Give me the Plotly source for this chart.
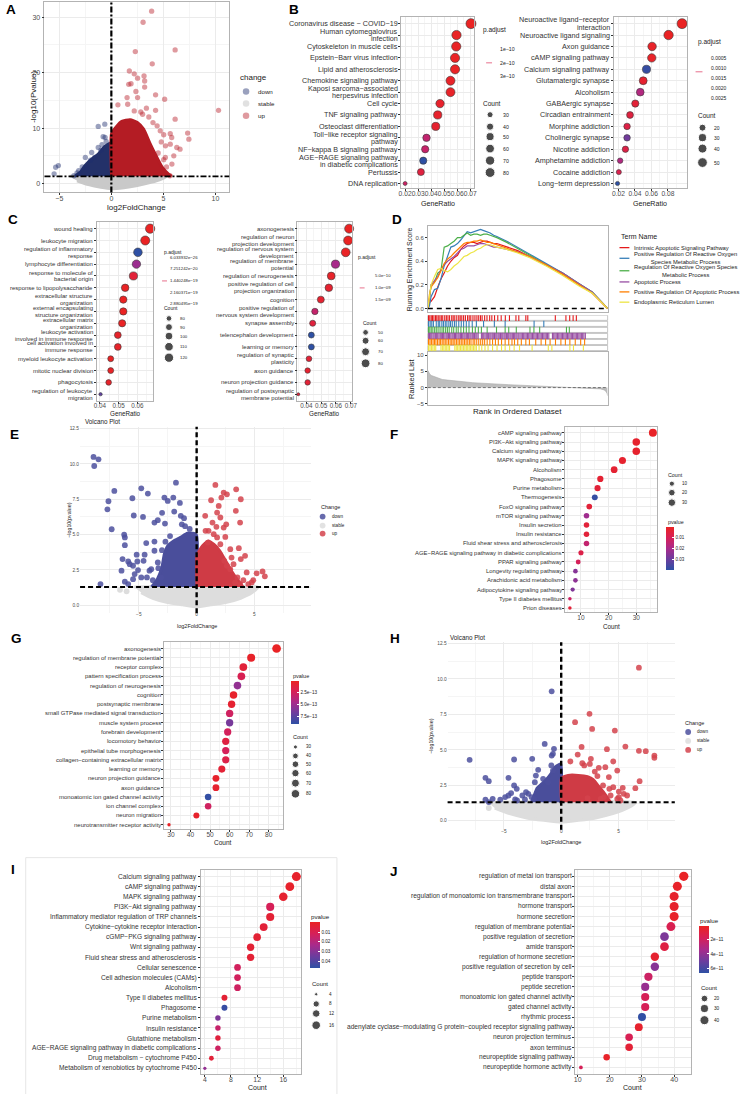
import math
import plotly.graph_objects as go

W, H = 748, 1096
FONT = "Liberation Sans, Arial, Helvetica, sans-serif"
TXT = "#1A1A1A"
TICK = "#4D4D4D"
LAB = "#333333"
GRID = "#EBEBEB"
GRID2 = "#F5F5F5"
BORDER = "#B3B3B3"
CS_RB = [[0.0, "#EA2323"], [0.25, "#D62058"], [0.5, "#A92A8B"], [0.75, "#6B3D9E"], [1.0, "#2E50A4"]]
CS_BR = [[round(1 - p, 4), c] for p, c in reversed(CS_RB)]

# ================= DATA =================
# --- A: volcano (outlier points + dense regions) ---
a_dn_x = [-5.09, -5.35, -5.5, -1.26, -0.63, -0.79, -1.26, -1.89, -2.5, -2.36, -3.14, -3.6, -1.6, -2.0, -0.9, -0.6, -0.5, -1.0, -2.8, -3.3]
a_dn_y = [3.24, 2.93, 1.74, 10.3, 10.7, 8.45, 6.5, 5.6, 4.7, 2.9, 2.3, 1.4, 4.7, 4.2, 7.0, 8.3, 7.6, 6.0, 3.0, 1.9]
a_up_x = [3.87, 3.05, 6.13, 2.3, 3.93, 1.73, 2.2, 2.52, 3.14, 3.2, 1.89, 1.67, 3.2, 2.36, 1.51, 2.52, 4.25, 5.12, 0.63, 1.57,
          3.37, 10.3, 2.2, 2.83, 4.25, 6.13, 4.4, 5.03, 5.66, 7.33, 7.45, 5.66, 6.29, 6.6, 5.19, 5.03, 5.82, 5.63, 4.8, 5.2,
          4.5, 5.8, 3.6, 4.0, 6.0, 4.7, 5.3, 3.0]
a_up_y = [31.1, 29.1, 24.1, 23.8, 21.6, 20.3, 19.8, 19.0, 19.4, 18.5, 18.0, 17.9, 17.4, 16.6, 15.5, 15.5, 16.0, 15.2, 14.2, 14.3,
          13.6, 13.2, 13.1, 12.9, 13.2, 11.6, 10.4, 8.8, 9.0, 9.1, 8.0, 7.1, 6.5, 6.2, 4.7, 4.3, 3.5, 1.4, 7.5, 6.8,
          5.5, 8.3, 12.0, 11.0, 5.0, 9.5, 3.0, 12.5]
a_upc_x = [0.02, 0.02, 0.5, 1.0, 1.8, 2.5, 3.1, 3.7, 4.3, 4.9, 5.5, 5.8]
a_upc_y = [1.3, 9.0, 10.3, 11.2, 11.5, 11.0, 9.8, 7.3, 5.0, 2.9, 1.7, 1.3]
a_dnc_x = [-0.02, -0.02, -0.63, -1.26, -1.9, -2.5, -3.0, -3.5]
a_dnc_y = [1.3, 7.3, 6.7, 5.3, 4.4, 3.3, 2.0, 1.3]
a_st_x = [-4.0, 5.3, 4.8, 3.8, 2.5, 1.2, 0.0, -1.0, -2.2, -3.3]
a_st_y = [1.3, 1.3, 0.8, 0.2, -0.35, -0.75, -0.95, -0.7, -0.2, 0.5]

# --- B left ---
b1_terms = ["Coronavirus disease − COVID−19", "Human cytomegalovirus<br>infection", "Cytoskeleton in muscle cells",
            "Epstein−Barr virus infection", "Lipid and atherosclerosis", "Chemokine signaling pathway",
            "Kaposi sarcoma−associated<br>herpesvirus infection", "Cell cycle", "TNF signaling pathway",
            "Osteoclast differentiation", "Toll−like receptor signaling<br>pathway", "NF−kappa B signaling pathway",
            "AGE−RAGE signaling pathway<br>in diabetic complications", "Pertussis", "DNA replication"]
b1_ratio = [0.0705, 0.0594, 0.0592, 0.0583, 0.0583, 0.0548, 0.0548, 0.0468, 0.0450, 0.0435, 0.0364, 0.0354, 0.0339, 0.0321, 0.0200]
b1_count = [83, 70, 69, 68, 68, 64, 64, 55, 53, 51, 43, 41, 40, 38, 23]
b1_padj = [0.05e-10, 0.08e-10, 0.08e-10, 0.1e-10, 0.1e-10, 0.15e-10, 0.15e-10, 0.2e-10, 0.2e-10, 0.25e-10, 1.3e-10, 1.2e-10, 3.5e-10, 0.5e-10, 1.1e-10]

# --- B right ---
b2_terms = ["Neuroactive ligand−receptor<br>interaction", "Neuroactive ligand signaling", "Axon guidance",
            "cAMP signaling pathway", "Calcium signaling pathway", "Glutamatergic synapse", "Alcoholism",
            "GABAergic synapse", "Circadian entrainment", "Morphine addiction", "Cholinergic synapse",
            "Nicotine addiction", "Amphetamine addiction", "Cocaine addiction", "Long−term depression"]
b2_ratio = [0.0972, 0.0808, 0.0608, 0.0604, 0.0540, 0.0500, 0.0464, 0.0404, 0.0340, 0.0304, 0.0304, 0.0284, 0.0220, 0.0204, 0.0188]
b2_count = [54, 45, 34, 33, 30, 28, 26, 22, 19, 17, 17, 16, 12, 11, 10]
b2_padj = [0.00002, 0.00003, 0.0001, 0.0001, 0.0028, 0.0002, 0.0013, 0.0003, 0.0004, 0.0005, 0.0021, 0.0005, 0.0013, 0.0006, 0.0029]

# --- C left ---
c1_terms = ["wound healing", "leukocyte migration", "regulation of inflammatory<br>response", "lymphocyte differentiation",
            "response to molecule of<br>bacterial origin", "response to lipopolysaccharide", "extracellular structure<br>organization",
            "external encapsulating<br>structure organization", "extracellular matrix<br>organization",
            "leukocyte activation<br>involved in immune response", "cell activation involved in<br>immune response",
            "myeloid leukocyte activation", "mitotic nuclear division", "phagocytosis", "regulation of leukocyte<br>migration"]
c1_ratio = [0.0668, 0.0642, 0.0603, 0.0595, 0.0579, 0.0535, 0.0525, 0.0525, 0.0519, 0.0496, 0.0496, 0.0458, 0.0458, 0.0447, 0.0404]
c1_count = [120, 116, 109, 107, 104, 96, 94, 94, 93, 89, 89, 82, 82, 80, 73]
c1_padj = [6.0e-26, 1.0e-22, 2.88e-19, 1.6e-19, 3.0e-20, 2.0e-21, 5.0e-22, 5.0e-22, 8.0e-22, 1.0e-20, 1.0e-20, 2.0e-21, 5.0e-21, 1.0e-20, 2.3e-19]

# --- C right ---
c2_terms = ["axonogenesis", "regulation of neuron<br>projection development", "regulation of nervous system<br>development",
            "regulation of membrane<br>potential", "regulation of neurogenesis", "positive regulation of cell<br>projection organization",
            "cognition", "positive regulation of<br>nervous system development", "synapse assembly", "telencephalon development",
            "learning or memory", "regulation of synaptic<br>plasticity", "axon guidance", "neuron projection guidance",
            "regulation of postsynaptic<br>membrane potential"]
c2_ratio = [0.0689, 0.0682, 0.0666, 0.0597, 0.0568, 0.0552, 0.0498, 0.0458, 0.0443, 0.0434, 0.0434, 0.0418, 0.0409, 0.0409, 0.0346]
c2_count = [83, 82, 80, 72, 68, 66, 60, 55, 53, 52, 52, 50, 49, 49, 42]
c2_padj = [1.0e-10, 1.0e-10, 1.2e-10, 9.0e-10, 1.5e-10, 2.0e-10, 2.0e-10, 6.5e-10, 3.0e-10, 1.7e-9, 1.7e-9, 2.5e-10, 2.0e-10, 2.5e-10, 3.0e-10]

# --- D: GSEA ---
d_terms = ["Intrinsic Apoptotic Signaling Pathway", "Positive Regulation Of Reactive Oxygen<br>Species Metabolic Process",
           "Regulation Of Reactive Oxygen Species<br>Metabolic Process", "Apoptotic Process",
           "Positive Regulation Of Apoptotic Process", "Endoplasmic Reticulum Lumen"]
d_colors = ["#E41A1C", "#377EB8", "#4DAF4A", "#984EA3", "#FF7F00", "#EDE544"]
es_x = [0, 0.009, 0.018, 0.037, 0.055, 0.073, 0.091, 0.11, 0.128, 0.146, 0.165, 0.183, 0.201, 0.219, 0.238, 0.256,
        0.274, 0.293, 0.311, 0.329, 0.347, 0.366, 0.384, 0.439, 0.5, 0.567, 0.658, 0.75, 0.841, 0.914, 1.0]
es_red = [0, 0.05, 0.06, 0.10, 0.18, 0.25, 0.30, 0.36, 0.40, 0.43, 0.45, 0.50, 0.53, 0.55, 0.56, 0.56,
          0.55, 0.56, 0.57, 0.57, 0.56, 0.55, 0.55, 0.52, 0.49, 0.44, 0.37, 0.29, 0.20, 0.13, 0]
es_blue = [0, 0.02, 0.10, 0.16, 0.17, 0.25, 0.36, 0.45, 0.52, 0.53, 0.55, 0.58, 0.62, 0.65, 0.64, 0.65,
           0.66, 0.67, 0.66, 0.65, 0.64, 0.62, 0.61, 0.57, 0.52, 0.46, 0.38, 0.30, 0.21, 0.14, 0]
es_green = [0, 0.08, 0.20, 0.22, 0.30, 0.32, 0.52, 0.53, 0.55, 0.57, 0.60, 0.60, 0.62, 0.64, 0.62, 0.63,
            0.63, 0.62, 0.63, 0.63, 0.62, 0.61, 0.60, 0.56, 0.51, 0.45, 0.37, 0.30, 0.21, 0.14, 0]
es_purple = [0, 0.08, 0.20, 0.24, 0.27, 0.33, 0.37, 0.40, 0.42, 0.44, 0.47, 0.50, 0.51, 0.53, 0.53, 0.53,
             0.54, 0.55, 0.55, 0.54, 0.53, 0.52, 0.52, 0.50, 0.48, 0.44, 0.37, 0.30, 0.21, 0.14, 0]
es_orange = [0, 0.12, 0.18, 0.22, 0.26, 0.32, 0.38, 0.42, 0.44, 0.47, 0.50, 0.52, 0.55, 0.56, 0.56, 0.57,
             0.57, 0.58, 0.57, 0.56, 0.56, 0.55, 0.54, 0.51, 0.48, 0.44, 0.37, 0.29, 0.20, 0.13, 0]
es_yellow = [0, 0.10, 0.20, 0.27, 0.33, 0.34, 0.32, 0.31, 0.33, 0.36, 0.38, 0.41, 0.44, 0.45, 0.47, 0.48,
             0.50, 0.51, 0.53, 0.54, 0.54, 0.53, 0.52, 0.50, 0.47, 0.43, 0.36, 0.28, 0.19, 0.13, 0]
rug_red = [0.004, 0.011, 0.019, 0.026, 0.034, 0.043, 0.05, 0.058, 0.067, 0.075, 0.083, 0.094, 0.103, 0.112, 0.121, 0.133,
           0.141, 0.15, 0.161, 0.172, 0.18, 0.189, 0.199, 0.209, 0.221, 0.23, 0.239, 0.251, 0.262, 0.273, 0.283, 0.293,
           0.302, 0.316, 0.329, 0.344, 0.356, 0.371, 0.389, 0.408, 0.431, 0.454, 0.49, 0.506, 0.545, 0.556, 0.709, 0.768,
           0.789, 0.808, 0.826]
rug_blue = [0.004, 0.013, 0.022, 0.031, 0.047, 0.058, 0.066, 0.078, 0.087, 0.097, 0.106, 0.117, 0.126, 0.136, 0.148, 0.158,
            0.172, 0.186, 0.199, 0.214, 0.229, 0.247, 0.27, 0.31, 0.37, 0.43, 0.591, 0.645]
rug_green = [0.004, 0.011, 0.019, 0.028, 0.038, 0.047, 0.057, 0.068, 0.079, 0.088, 0.099, 0.109, 0.119, 0.133, 0.144, 0.158,
             0.169, 0.184, 0.199, 0.214, 0.229, 0.248, 0.264, 0.281, 0.298, 0.33, 0.382, 0.43, 0.45, 0.492, 0.568, 0.59,
             0.622, 0.771, 0.787]
rug_purple = [0.003, 0.009, 0.016, 0.022, 0.029, 0.035, 0.042, 0.049, 0.055, 0.062, 0.069, 0.075, 0.082, 0.088, 0.095, 0.102,
              0.108, 0.115, 0.121, 0.128, 0.135, 0.141, 0.148, 0.154, 0.161, 0.168, 0.174, 0.181, 0.187, 0.194, 0.201, 0.207,
              0.214, 0.22, 0.227, 0.234, 0.24, 0.247, 0.253, 0.26, 0.267, 0.273, 0.28, 0.298, 0.305, 0.311, 0.318, 0.325,
              0.331, 0.338, 0.345, 0.351, 0.358, 0.364, 0.371, 0.378, 0.384, 0.391, 0.397, 0.404, 0.411, 0.417, 0.424, 0.43,
              0.437, 0.444, 0.45, 0.457, 0.463, 0.47, 0.477, 0.483, 0.49, 0.496, 0.503, 0.512, 0.519, 0.526, 0.533, 0.54,
              0.547, 0.554, 0.561, 0.568, 0.575, 0.582, 0.589, 0.596, 0.603, 0.61, 0.617, 0.624, 0.631, 0.638, 0.645, 0.652,
              0.659, 0.666, 0.673, 0.693, 0.7, 0.707, 0.714, 0.721, 0.728, 0.735, 0.742, 0.749, 0.756, 0.763, 0.77, 0.777,
              0.784, 0.791, 0.798, 0.805, 0.812, 0.819, 0.826, 0.833, 0.84, 0.847, 0.854, 0.861, 0.868, 0.876]
rug_orange = [0.004, 0.012, 0.02, 0.029, 0.037, 0.045, 0.054, 0.063, 0.071, 0.08, 0.089, 0.097, 0.106, 0.115, 0.124, 0.133,
              0.141, 0.15, 0.159, 0.168, 0.177, 0.186, 0.195, 0.204, 0.213, 0.222, 0.231, 0.24, 0.252, 0.261, 0.272, 0.283,
              0.294, 0.305, 0.316, 0.33, 0.345, 0.36, 0.376, 0.392, 0.41, 0.43, 0.45, 0.468, 0.482, 0.5, 0.52, 0.545, 0.565,
              0.6, 0.63, 0.655, 0.68, 0.71, 0.74, 0.765, 0.79, 0.82, 0.85, 0.872]
rug_yellow = [0.004, 0.012, 0.02, 0.028, 0.036, 0.044, 0.073, 0.081, 0.089, 0.097, 0.105, 0.113, 0.121, 0.15, 0.158, 0.166,
              0.174, 0.182, 0.19, 0.198, 0.206, 0.214, 0.222, 0.23, 0.238, 0.246, 0.254, 0.262, 0.27, 0.285, 0.3, 0.318,
              0.335, 0.36, 0.385, 0.41, 0.43, 0.455, 0.48, 0.51, 0.58, 0.67, 0.69, 0.79, 0.81, 0.865]
rk_x = [0, 0.005, 0.01, 0.02, 0.037, 0.06, 0.08, 0.11, 0.15, 0.2, 0.25, 0.3, 0.38, 0.45, 0.57, 0.65, 0.75, 0.8, 0.86,
        0.9, 0.93, 0.96, 0.98, 0.99, 0.997, 1.0]
rk_y = [5.3, 4.6, 4.2, 3.7, 3.3, 2.8, 2.5, 2.3, 2.0, 1.8, 1.5, 1.3, 1.1, 0.9, 0.6, 0.4, 0.2, 0.1, 0.0, -0.1, -0.2,
        -0.4, -0.7, -1.1, -1.8, -2.5]

# --- E: volcano ---
e_dn_x = [-8.92, -8.49, -8.86, -7.12, -4.79, -4.22, -7.63, -7.72, -5.56, -7.35, -4.64, -5.44, -6.27, -6.21, -6.21, -4.36,
          -3.65, -3.65, -3.36, -2.79, -2.5, -2.02, -1.45, -1.79, -2.99, -2.74, -1.94, -1.37, -1.09, -1.28, -6.41, -6.5,
          -5.92, -5.79, -5.19, -4.5, -5.36, -5.07, -4.59, -4.08, -3.36, -3.31, -8.32, -6.21, -5.92, -5.5, -4.79, -4.3,
          -3.79, -3.08, -5.5, -5.13, -3.65, -3.93, -0.6, -1.0, -0.3, -2.3, -2.7, -3.0]
e_dn_y = [10.49, 10.32, 9.85, 8.09, 8.27, 7.9, 7.36, 6.79, 7.57, 5.38, 6.25, 6.35, 4.99, 4.8, 4.25, 4.4,
          4.51, 5.85, 6.02, 7.62, 7.38, 7.62, 7.24, 8.67, 6.54, 5.78, 6.63, 6.33, 6.16, 5.73, 3.27, 2.45,
          3.1, 2.91, 3.58, 3.58, 2.21, 2.49, 3.15, 2.45, 3.03, 2.63, 1.5, 1.67, 1.5, 1.85, 1.97, 1.97,
          1.78, 1.97, 2.8, 3.1, 3.86, 2.56, 5.4, 5.6, 5.0, 4.9, 4.5, 3.9]
e_up_x = [1.62, 2.34, 2.62, 3.42, 1.25, 2.14, 3.82, 0.74, 1.77, 1.91, 2.05, 3.39, 3.76, 1.37, 1.71, 2.34, 2.56, 0.77, 1.03,
          1.48, 1.77, 2.48, 0.97, 2.05, 2.91, 3.65, 4.19, 3.82, 3.02, 2.39, 2.91, 4.33, 3.53, 4.04, 5.19, 5.7, 5.9, 4.9,
          4.76, 4.47, 3.76, 3.33, 3.19, 2.62]
e_up_y = [8.51, 7.97, 7.85, 8.2, 7.43, 7.62, 7.5, 6.33, 6.56, 7.03, 6.21, 6.68, 5.85, 5.85, 5.55, 5.5, 5.73, 5.27, 5.27,
          5.03, 4.8, 4.84, 4.44, 4.32, 3.97, 4.04, 3.5, 3.27, 3.38, 3.15, 2.56, 2.33, 1.97, 1.78, 2.26, 2.4, 2.05, 1.78,
          1.62, 1.5, 1.5, 1.62, 2.91, 2.8]
e_dnc_x = [-0.03, -0.03, -0.8, -1.4, -1.9, -2.5, -2.8, -3.0, -3.4, -3.9]
e_dnc_y = [1.3, 5.0, 5.1, 4.8, 4.6, 4.2, 3.6, 2.7, 1.85, 1.3]
e_upc_x = [0.03, 0.03, 0.5, 1.0, 1.5, 2.0, 2.5, 3.0, 3.5, 4.0]
e_upc_y = [1.3, 3.5, 4.2, 4.55, 4.3, 3.85, 3.15, 2.45, 1.85, 1.3]
e_st_x = [-5.4, 5.3, 4.8, 3.8, 2.5, 1.2, 0.0, -1.2, -2.5, -3.8, -4.8]
e_st_y = [1.3, 1.3, 0.9, 0.5, 0.2, 0.04, -0.1, 0.04, 0.2, 0.5, 0.9]
e_stp_x = [-6.63, -6.06]
e_stp_y = [1.1, 0.99]

# --- F ---
f_terms = ["cAMP signaling pathway", "PI3K−Akt signaling pathway", "Calcium signaling pathway", "MAPK signaling pathway",
           "Alcoholism", "Phagosome", "Purine metabolism", "Thermogenesis", "FoxO signaling pathway", "mTOR signaling pathway",
           "Insulin secretion", "Insulin resistance", "Fluid shear stress and atherosclerosis",
           "AGE−RAGE signaling pathway in diabetic complications", "PPAR signaling pathway", "Longevity regulating pathway",
           "Arachidonic acid metabolism", "Adipocytokine signaling pathway", "Type II diabetes mellitus", "Prion diseases"]
f_count = [36, 30, 30, 25, 22, 17, 16, 15, 13, 12, 12, 12, 12, 10, 9, 8, 8, 7, 6, 6]
f_pval = [0.001, 0.002, 0.002, 0.002, 0.003, 0.003, 0.004, 0.038, 0.004, 0.021, 0.004, 0.004, 0.014, 0.007, 0.010,
          0.025, 0.024, 0.026, 0.012, 0.004]

# --- G ---
g_terms = ["axonogenesis", "regulation of membrane potential", "receptor complex", "pattern specification process",
           "regulation of neurogenesis", "cognition", "postsynaptic membrane", "small GTPase mediated signal transduction",
           "muscle system process", "forebrain development", "locomotory behavior", "epithelial tube morphogenesis",
           "collagen−containing extracellular matrix", "learning or memory", "neuron projection guidance", "axon guidance",
           "monoatomic ion gated channel activity", "ion channel complex", "neuron migration", "neurotransmitter receptor activity"]
g_count = [84, 71, 67, 66, 64, 62, 61, 60, 60, 59, 58, 58, 58, 56, 53, 53, 49, 49, 43, 29]
g_pval = [3e-14, 5e-14, 1.2e-13, 2.2e-13, 5.5e-13, 6e-14, 8e-14, 2.8e-13, 6.5e-13, 2.6e-13, 1.5e-13, 2.5e-13, 1.8e-13,
          1e-13, 6e-14, 7e-14, 9e-13, 2.8e-13, 6e-14, 4e-14]

# --- H: volcano ---
h_dn_x = [-7.99, -4.11, -2.53, -1.44, -0.83, -0.63, -0.72, -0.83, -6.61, -6.32, -4.6, -4.11, -3.88, -2.01, -2.21, -2.3,
          -3.07, -2.87, -3.39, -2.59, -6.61, -6.32, -5.98, -5.32, -4.89, -4.6, -4.37, -4.02, -3.85, -3.16, -2.36, -1.15,
          -0.86, -0.72, -1.58]
h_dn_y = [4.3, 4.32, 4.37, 5.42, 9.13, 5.07, 4.72, 4.6, 3.03, 2.79, 3.03, 2.49, 2.25, 3.59, 3.19, 2.72,
          2.02, 1.9, 1.78, 1.67, 1.48, 1.32, 1.55, 1.48, 1.67, 1.78, 1.95, 1.5, 1.43, 1.5, 1.55, 2.72,
          3.9, 3.54, 2.96]
h_up_x = [6.78, 2.47, 1.21, 2.7, 4.68, 1.78, 1.44, 3.99, 5.6, 6.78, 7.38, 8.13, 8.13, 0.8, 1.84, 2.59, 2.5, 2.01, 3.28,
          3.85, 4.54, 2.93, 3.16, 3.65, 4.2, 4.54, 5.03, 5.37, 5.46, 6.47, 6.84, 5.03, 4.31, 3.73, 3.45, 2.3, 4.89, 5.75,
          5.17, 4.16, 4.89]
h_up_y = [10.8, 7.54, 6.95, 6.48, 6.36, 5.21, 4.67, 5.05, 5.23, 4.93, 4.91, 4.6, 4.44, 4.18, 4.06, 4.37, 4.01, 3.9, 3.73,
          3.78, 4.18, 3.47, 3.15, 2.49, 2.25, 2.37, 2.06, 2.32, 1.9, 2.3, 2.79, 1.67, 1.78, 1.67, 1.55, 1.6, 1.55, 1.78,
          1.43, 3.08, 3.54]
h_dnc_x = [-0.03, -0.03, -0.5, -0.9, -1.3, -1.7, -2.1, -2.4, -2.6]
h_dnc_y = [1.3, 4.0, 3.8, 3.3, 2.9, 2.6, 2.3, 1.7, 1.3]
h_upc_x = [0.03, 0.03, 0.6, 1.5, 2.3, 2.8, 3.3, 3.8, 4.3]
h_upc_y = [1.3, 3.0, 3.2, 3.2, 3.1, 2.9, 2.4, 1.9, 1.3]
h_st_x = [-6.4, 6.5, 5.8, 4.5, 3.0, 1.5, 0.0, -1.5, -3.0, -4.5, -5.8]
h_st_y = [1.3, 1.3, 0.9, 0.5, 0.2, 0.03, -0.1, 0.03, 0.2, 0.5, 0.9]
h_stp_x = [-6.32]
h_stp_y = [0.9]

# --- I ---
i_terms = ["Calcium signaling pathway", "cAMP signaling pathway", "MAPK signaling pathway", "PI3K−Akt signaling pathway",
           "Inflammatory mediator regulation of TRP channels", "Cytokine−cytokine receptor interaction",
           "cGMP−PKG signaling pathway", "Wnt signaling pathway", "Fluid shear stress and atherosclerosis",
           "Cellular senescence", "Cell adhesion molecules (CAMs)", "Alcoholism", "Type II diabetes mellitus", "Phagosome",
           "Purine metabolism", "Insulin resistance", "Glutathione metabolism",
           "AGE−RAGE signaling pathway in diabetic complications", "Drug metabolism − cytochrome P450",
           "Metabolism of xenobiotics by cytochrome P450"]
i_count = [18, 17, 16, 14, 14, 13, 12, 11, 11, 9, 9, 9, 7, 7, 6, 6, 6, 6, 5, 4]
i_pval = [0.002, 0.002, 0.003, 0.012, 0.004, 0.005, 0.004, 0.004, 0.004, 0.013, 0.013, 0.014, 0.004, 0.046, 0.032,
          0.016, 0.006, 0.014, 0.005, 0.028]

# --- J ---
j_terms = ["regulation of metal ion transport", "distal axon", "regulation of monoatomic ion transmembrane transport",
           "hormone transport", "hormone secretion", "regulation of membrane potential", "positive regulation of secretion",
           "amide transport", "regulation of hormone secretion", "positive regulation of secretion by cell",
           "peptide transport", "peptide secretion", "monoatomic ion gated channel activity", "gated channel activity",
           "rhythmic process", "adenylate cyclase−modulating G protein−coupled receptor signaling pathway",
           "neuron projection terminus", "axon terminus", "neuropeptide signaling pathway", "neuropeptide hormone activity"]
j_count = [43, 41, 40, 40, 40, 39, 37, 37, 34, 34, 32, 31, 31, 31, 30, 29, 26, 26, 19, 11]
j_pval = [0.3e-11, 0.4e-11, 0.5e-11, 0.5e-11, 0.4e-11, 1.6e-11, 4.6e-11, 1.2e-11, 0.6e-11, 4.3e-11, 2.2e-11, 3.9e-11,
          1.8e-11, 1.8e-11, 6.6e-11, 0.5e-11, 1.7e-11, 0.8e-11, 0.4e-11, 1.8e-11]

# ================= HELPERS =================
fig = go.Figure()
layout = {}
annots = []
shapes = []
XSTAND = -3


def names(n):
    s = "" if n == 1 else str(n)
    return "x" + s, "y" + s, "xaxis" + s, "yaxis" + s


def lin(p0, v0, p1, v1, p):
    return v0 + (p - p0) * (v1 - v0) / (p1 - p0)


def dsize(c, lo, hi, dmin, dmax):
    t = min(max((c - lo) / (hi - lo), 0.0), 1.0)
    return dmin + (dmax - dmin) * math.sqrt(t)


def text(x, y, s, size, color=TXT, xanchor="left", angle=0, bold=False):
    annots.append(dict(x=x, y=y, xref="x20", yref="y20", text=("<b>%s</b>" % s) if bold else s,
                       showarrow=False, xanchor=xanchor, yanchor="middle", textangle=angle,
                       font=dict(family=FONT, size=size, color=color)))


def hline(x0, x1, y, color, width, dash="solid"):
    shapes.append(dict(type="line", xref="x20", yref="y20", x0=x0, x1=x1, y0=y, y1=y,
                       line=dict(color=color, width=width, dash=dash)))


def dotplot(n, terms, xv, counts, cv, box, rows, xref, xticks, xtext, xminor, lab_size, tick_size,
            drange, cs, crange, outline=False, cbar=None, lhf=1.05):
    xn, yn, xk, yk = names(n)
    l, r, t, b = box
    r1, rk = rows
    k = len(terms)
    sp = (rk - r1) / (k - 1)
    i_top = 1 + (t - r1) / sp
    i_bot = 1 + (b - r1) / sp
    (p0, v0), (p1, v1) = xref
    xr = [lin(p0, v0, p1, v1, l), lin(p0, v0, p1, v1, r)]
    lo, hi = min(counts), max(counts)
    mk = dict(size=[dsize(c, lo, hi, *drange) for c in counts], color=cv, colorscale=cs,
              cmin=crange[0], cmax=crange[1], opacity=1,
              line=dict(width=0.6 if outline else 0, color="#3A3A3A"), showscale=cbar is not None)
    if cbar is not None:
        mk["colorbar"] = cbar
    fig.add_trace(go.Scatter(x=xv, y=list(range(1, k + 1)), mode="markers", marker=mk, xaxis=xn, yaxis=yn,
                             showlegend=False, cliponaxis=False, hoverinfo="skip"))
    frame = dict(showline=True, mirror=True, linecolor=BORDER, linewidth=0.8, zeroline=False,
                 ticks="outside", ticklen=2, tickwidth=0.6, tickcolor="#333333",
                 showgrid=True, gridcolor=GRID, gridwidth=0.6)
    layout[xk] = dict(domain=[l / W, r / W], anchor=yn, range=xr, tickmode="array", tickvals=xticks, ticktext=xtext,
                      tickangle=0, tickfont=dict(size=tick_size, color=TICK, family=FONT), ticklabelstandoff=XSTAND,
                      minor=dict(tickmode="array", tickvals=xminor, showgrid=True, gridcolor=GRID2, gridwidth=0.5, ticks=""),
                      **frame)
    layout[yk] = dict(domain=[1 - b / H, 1 - t / H], anchor=xn, range=[i_bot, i_top], tickmode="array",
                      tickvals=list(range(1, k + 1)), showticklabels=False, **frame)
    # category labels (right-aligned next to the axis ticks, tight line spacing like ggplot)
    for i, term in enumerate(terms):
        ypx = r1 + i * sp
        lines = term.split("<br>")
        m = len(lines)
        for j, ln in enumerate(lines):
            annots.append(dict(x=l - 2.5, y=ypx + (j - (m - 1) / 2) * lab_size * lhf, xref="x20", yref="y20",
                               text=ln, showarrow=False, xanchor="right", yanchor="middle", borderpad=0,
                               font=dict(family=FONT, size=lab_size, color=LAB)))
    return lo, hi


def size_legend(tx, ty, tsize, dx, vals, ys, lx, lsize, lohi, drange):
    text(tx, ty, "Count", tsize)
    fig.add_trace(go.Scatter(x=[dx] * len(vals), y=ys, mode="markers",
                             marker=dict(size=[dsize(v, lohi[0], lohi[1], *drange) for v in vals], color="black"),
                             xaxis="x20", yaxis="y20", showlegend=False, hoverinfo="skip"))
    for v, y in zip(vals, ys):
        text(lx, y, str(v), lsize)


def padj_legend(tx, ty, tsize, labels, ys, lx, lsize, lx0, lx1, ly):
    text(tx, ty, "p.adjust", tsize)
    for s, y in zip(labels, ys):
        text(lx, y, s, lsize)
    hline(lx0, lx1, ly, "#E4607F", 0.9)


def cbar(x, y, w, h, tickvals, ticktext, size):
    return dict(x=x / W, y=1 - y / H, xanchor="left", yanchor="top", xpad=0, ypad=0,
                thicknessmode="pixels", thickness=w, lenmode="pixels", len=h, outlinewidth=0,
                tickmode="array", tickvals=tickvals, ticktext=ticktext, ticks="inside", ticklen=2,
                tickcolor="white", tickfont=dict(size=size, color=TXT, family=FONT))


def volcano_axes(n, box, xref, yref, framed, xticks, xtext, xminor, yticks, ytext, yminor, tsize):
    xn, yn, xk, yk = names(n)
    l, r, t, b = box
    xr = [lin(*xref[0], *xref[1], l), lin(*xref[0], *xref[1], r)]
    yr = [lin(*yref[0], *yref[1], b), lin(*yref[0], *yref[1], t)]
    common = dict(showgrid=True, gridcolor=GRID, gridwidth=0.7, zeroline=False,
                  tickfont=dict(size=tsize, color=TICK, family=FONT))
    if framed:
        common.update(showline=True, mirror=True, linecolor=BORDER, linewidth=0.8, ticks="outside",
                      ticklen=2, tickcolor="#333333", tickwidth=0.6)
    else:
        common.update(showline=False, ticks="")
    layout[xk] = dict(domain=[l / W, r / W], anchor=yn, range=xr, tickmode="array", tickvals=xticks, ticktext=xtext,
                      tickangle=0, ticklabelstandoff=XSTAND,
                      minor=dict(tickmode="array", tickvals=xminor, showgrid=True, gridcolor=GRID2,
                                 gridwidth=0.5, ticks=""), **common)
    layout[yk] = dict(domain=[1 - b / H, 1 - t / H], anchor=xn, range=yr, tickmode="array", tickvals=yticks,
                      ticktext=ytext, minor=dict(tickmode="array", tickvals=yminor, showgrid=True, gridcolor=GRID2,
                                                 gridwidth=0.5, ticks=""), **common)
    return xn, yn


def add_poly(xn, yn, px, py, color):
    fig.add_trace(go.Scatter(x=px, y=py, mode="lines", fill="toself", fillcolor=color,
                             line=dict(color=color, width=3, shape="spline", smoothing=0.5),
                             xaxis=xn, yaxis=yn, showlegend=False, hoverinfo="skip"))


def add_pts(xn, yn, px, py, color, size, op):
    fig.add_trace(go.Scatter(x=px, y=py, mode="markers", marker=dict(color=color, size=size, opacity=op, line=dict(width=0)),
                             xaxis=xn, yaxis=yn, showlegend=False, hoverinfo="skip", cliponaxis=True))


def thresholds(xn, yn, dash, width):
    shapes.append(dict(type="line", xref=xn, yref=yn + " domain", x0=0, x1=0, y0=0, y1=1,
                       line=dict(color="black", width=width, dash=dash)))
    shapes.append(dict(type="line", xref=xn + " domain", yref=yn, x0=0, x1=1, y0=1.3, y1=1.3,
                       line=dict(color="black", width=width * 0.8, dash=dash)))


# ================= PANEL A =================
xn, yn = volcano_axes(1, (42, 229, 1, 192), ((57, -5), (215, 10)), ((183, 0), (16.3, 30)), True,
                      [-5, 0, 5, 10], ["−5", "0", "5", "10"], [-2.5, 2.5, 7.5],
                      [0, 10, 20, 30], ["0", "10", "20", "30"], [5, 15, 25], 7)
add_poly(xn, yn, a_st_x, a_st_y, "#C9C9C9")
add_poly(xn, yn, a_dnc_x, a_dnc_y, "#233169")
add_pts(xn, yn, a_dn_x, a_dn_y, "#1F2F6E", 5.3, 0.45)
add_poly(xn, yn, a_upc_x, a_upc_y, "#B41C24")
add_pts(xn, yn, a_up_x, a_up_y, "#B8202A", 5.3, 0.45)
thresholds(xn, yn, "6px,2px,2px,2px", 2.2)
text(135, 207, "log2FoldChange", 8, xanchor="center")
text(31, 96.5, "-log10(Pvalue)", 8, xanchor="center", angle=-90)
text(238, 77, "change", 8)
fig.add_trace(go.Scatter(x=[246, 246, 246], y=[90.7, 102.7, 115], mode="markers",
                         marker=dict(size=6.5, color=["#1F2F6E", "#BDBDBD", "#B8202A"], opacity=0.45),
                         xaxis="x20", yaxis="y20", showlegend=False, hoverinfo="skip"))
for s, y in zip(["down", "stable", "up"], [90.7, 102.7, 115]):
    text(256, y, s, 6.2)

# ================= PANEL B =================
lohi = dotplot(2, b1_terms, b1_ratio, b1_count, b1_padj, (403, 477, 16, 188), (22.7, 183), ((407, 0.02), (473, 0.07)),
               [0.02, 0.03, 0.04, 0.05, 0.06, 0.07], ["0.02", "0.03", "0.04", "0.05", "0.06", "0.07"],
               [0.015, 0.025, 0.035, 0.045, 0.055, 0.065, 0.075], 7.2, 6.7, (4, 10), CS_RB, (0.05e-10, 3.5e-10),
               outline=True, lhf=1.02)
padj_legend(484, 29, 6.5, ["1e−10", "2e−10", "3e−10"], [48, 62, 75], 501, 5.2, 489, 495, 62)
size_legend(484, 103, 6.5, 493, [30, 40, 50, 60, 70, 80], [114, 126, 136, 148, 160, 172], 504, 5.2, lohi, (4, 10))
text(440, 203.5, "GeneRatio", 7.1, xanchor="center")

lohi = dotplot(3, b2_terms, b2_ratio, b2_count, b2_padj, (618, 692, 16, 188), (22.7, 183), ((623, 0.02), (673, 0.08)),
               [0.02, 0.04, 0.06, 0.08], ["0.02", "0.04", "0.06", "0.08"], [0.03, 0.05, 0.07, 0.09],
               7.2, 6.7, (4.2, 10), CS_RB, (0.00002, 0.0029), outline=True, lhf=1.02)
padj_legend(701, 41, 6.5, ["0.0005", "0.0010", "0.0015", "0.0020", "0.0025"], [57, 67, 77, 87, 97], 715, 5.0, 701, 708, 71)
size_legend(701, 115, 6.5, 708, [20, 30, 40, 50], [127, 137, 148, 162], 718, 5.0, lohi, (4.2, 10))
text(655, 203.5, "GeneRatio", 7.1, xanchor="center")

# ================= PANEL C =================
lohi = dotplot(4, c1_terms, c1_ratio, c1_count, c1_padj, (95, 152, 222, 401), (228.3, 394.3), ((98, 0.04), (136, 0.06)),
               [0.04, 0.05, 0.06], ["0.04", "0.05", "0.06"], [0.035, 0.045, 0.055, 0.065],
               6.0, 6.3, (3.3, 9.3), CS_RB, (6e-26, 2.88e-19), outline=True, lhf=1.15)
padj_legend(161, 252, 5.0, ["6.033932e−26", "7.251242e−20", "1.440248e−19", "2.160371e−19", "2.880495e−19"],
            [257.5, 268.3, 280.3, 292.3, 303.7], 167, 4.3, 161, 166, 280.7)
size_legend(161, 308, 5.0, 168, [80, 90, 100, 110, 120], [318.3, 327, 336, 346.7, 357.7], 177, 4.3, lohi, (3.3, 9.3))
text(123.5, 413.5, "GeneRatio", 6.3, xanchor="center")

lohi = dotplot(5, c2_terms, c2_ratio, c2_count, c2_padj, (298, 353, 222, 401), (228.3, 394.3), ((307, 0.04), (352, 0.07)),
               [0.04, 0.05, 0.06, 0.07], ["0.04", "0.05", "0.06", "0.07"], [0.035, 0.045, 0.055, 0.065],
               6.0, 6.3, (3, 9), CS_RB, (1.0e-10, 1.7e-9), outline=True, lhf=1.15)
padj_legend(357, 257, 5.0, ["5.0e−10", "1.0e−09", "1.5e−09"], [275, 287.7, 299], 374, 4.3, 361, 366, 287.7)
size_legend(362, 323, 5.0, 367, [50, 60, 70, 80], [332.3, 340.7, 351.7, 363.3], 378, 4.3, lohi, (3, 9))
text(325.5, 413.5, "GeneRatio", 6.3, xanchor="center")

# ================= PANEL D =================
dframe = dict(showline=True, mirror=True, linecolor=BORDER, linewidth=0.8, zeroline=False, showgrid=False)
layout["xaxis6"] = dict(domain=[430 / W, 612 / W], anchor="y6", range=[0, 1], showticklabels=False, ticks="", **dframe)
layout["yaxis6"] = dict(domain=[1 - 312 / H, 1 - 226 / H], anchor="x6",
                        range=[lin(308.3, 0, 237.3, 0.6, 312), lin(308.3, 0, 237.3, 0.6, 226)],
                        tickmode="array", tickvals=[0, 0.2, 0.4, 0.6], ticktext=["0.0", "0.2", "0.4", "0.6"],
                        ticks="outside", ticklen=2, tickwidth=0.6, tickcolor="#333333",
                        tickfont=dict(size=6, color=TICK, family=FONT), **dframe)
for vals, col in zip([es_red, es_blue, es_green, es_purple, es_orange, es_yellow], d_colors):
    fig.add_trace(go.Scatter(x=es_x, y=vals, mode="lines", line=dict(color=col, width=1.2), xaxis="x6", yaxis="y6",
                             showlegend=False, hoverinfo="skip"))
shapes.append(dict(type="line", xref="x6 domain", yref="y6", x0=0, x1=1, y0=0, y1=0,
                   line=dict(color="black", width=1.5, dash="5px,4px")))

layout["xaxis7"] = dict(domain=[430 / W, 612 / W], anchor="y7", range=[0, 1], visible=False)
layout["yaxis7"] = dict(domain=[1 - 351 / H, 1 - 315 / H], anchor="x7", range=[6.495, 0.554], visible=False)
for i, (hits, col) in enumerate(zip([rug_red, rug_blue, rug_green, rug_purple, rug_orange, rug_yellow], d_colors)):
    shapes.append(dict(type="rect", xref="x7 domain", yref="y7", x0=0, x1=1, y0=i + 1 - 0.42, y1=i + 1 + 0.42,
                       line=dict(color="#A0A0A0", width=0.6), fillcolor="white", layer="below"))
    fig.add_trace(go.Scatter(x=hits, y=[i + 1] * len(hits), mode="markers",
                             marker=dict(symbol="line-ns", size=4.6, line=dict(color=col, width=1.1)),
                             xaxis="x7", yaxis="y7", showlegend=False, hoverinfo="skip"))

layout["xaxis8"] = dict(domain=[430 / W, 612 / W], anchor="y8", range=[0, 1], showticklabels=False, ticks="", **dframe)
layout["yaxis8"] = dict(domain=[1 - 405 / H, 1 - 352.3 / H], anchor="x8",
                        range=[lin(355, 10, 404, -5, 405), lin(355, 10, 404, -5, 352.3)],
                        tickmode="array", tickvals=[-5, 0, 5, 10], ticktext=["−5", "0", "5", "10"],
                        ticks="outside", ticklen=2, tickwidth=0.6, tickcolor="#333333",
                        tickfont=dict(size=6, color=TICK, family=FONT), **dframe)
fig.add_trace(go.Scatter(x=rk_x, y=rk_y, mode="lines", fill="tozeroy", fillcolor="#BEBEBE",
                         line=dict(color="#A8A8A8", width=0.6), xaxis="x8", yaxis="y8", showlegend=False, hoverinfo="skip"))
shapes.append(dict(type="line", xref="x8 domain", yref="y8", x0=0, x1=1, y0=0, y1=0,
                   line=dict(color="#555555", width=0.8, dash="3px,2px")))
text(412, 269, "Running Enrichment Score", 7, xanchor="center", angle=-90)
text(414, 379, "Ranked List", 7.5, xanchor="center", angle=-90)
text(521, 412, "Rank in Ordered Dataset", 8, xanchor="center")
text(623, 236, "Term Name", 7)
for s, col, y in zip(d_terms, d_colors, [247.3, 258, 270.5, 281.7, 291.7, 302]):
    hline(624, 634, y, col, 1.3)
    text(637, y, s, 5.8)

# ================= PANEL E =================
xn, yn = volcano_axes(9, (78, 312, 427, 614), ((196, 0), (254.5, 5)), ((606, 0), (428.7, 12.5)), False,
                      [-5, 0, 5], ["−5", "0", "5"], [-7.5, -2.5, 2.5, 7.5],
                      [0, 2.5, 5, 7.5, 10, 12.5], ["0.0", "2.5", "5.0", "7.5", "10.0", "12.5"],
                      [1.25, 3.75, 6.25, 8.75, 11.25], 4.8)
add_poly(xn, yn, e_st_x, e_st_y, "#DDDDDD")
add_pts(xn, yn, e_stp_x, e_stp_y, "#DDDDDD", 5.8, 1)
add_poly(xn, yn, e_dnc_x, e_dnc_y, "#4A4E9B")
add_pts(xn, yn, e_dn_x, e_dn_y, "#4C509E", 5.8, 0.85)
add_poly(xn, yn, e_upc_x, e_upc_y, "#CF3B45")
add_pts(xn, yn, e_up_x, e_up_y, "#D3434C", 5.8, 0.85)
thresholds(xn, yn, "5px,3px", 2.4)
text(81, 421.5, "Volcano Plot", 6.3)
text(66, 521, "−log10(pvalue)", 5.3, xanchor="center", angle=-90)
text(196, 626.5, "log2FoldChange", 5.5, xanchor="center")
text(320, 507, "Change", 5.5)
fig.add_trace(go.Scatter(x=[323.5] * 3, y=[517, 526, 534], mode="markers",
                         marker=dict(size=5.8, color=["#4C509E", "#DDDDDD", "#D3434C"], opacity=0.85),
                         xaxis="x20", yaxis="y20", showlegend=False, hoverinfo="skip"))
for s, y in zip(["down", "stable", "up"], [517, 526, 534]):
    text(331, y, s, 4.6)

# ================= PANEL F =================
lohi = dotplot(10, f_terms, f_count, f_count, [-p for p in f_pval], (569, 662, 427, 613), (433, 608.7),
               ((585, 10), (641, 30)), [10, 20, 30], ["10", "20", "30"], [5, 15, 25, 35], 5.9, 6.5, (3.5, 8),
               CS_BR, (-0.0391, 0.0),
               cbar=cbar(671, 527, 8, 43, [-0.01, -0.02, -0.03], ["0.01", "0.02", "0.03"], 4.5))
size_legend(671, 475, 5.3, 677, [10, 20, 30], [484, 493, 503], 685, 4.5, lohi, (3.5, 8))
text(671, 522, "pvalue", 5.3)
text(616, 627, "Count", 6.3, xanchor="center")

# ================= PANEL G =================
lohi = dotplot(11, g_terms, g_count, g_count, [-p for p in g_pval], (163, 283, 643, 830), (649.3, 826),
               ((170, 30), (269, 80)), [30, 40, 50, 60, 70, 80], ["30", "40", "50", "60", "70", "80"],
               [25, 35, 45, 55, 65, 75, 85], 6.0, 6.6, (3.3, 8.7), CS_BR, (-9.17e-13, -2.1e-14),
               cbar=cbar(292, 682, 7.5, 43, [-2.5e-13, -5e-13, -7.5e-13], ["2.5e−13", "5.0e−13", "7.5e−13"], 4.6))
size_legend(291, 738, 5.5, 296, [30, 40, 50, 60, 70, 80], [748, 757, 765.3, 774.3, 784.3, 795], 305, 4.5, lohi, (3.3, 8.7))
text(291, 677, "pvalue", 5.5)
text(223, 843.5, "Count", 6.5, xanchor="center")

# ================= PANEL H =================
xn, yn = volcano_axes(12, (450, 680, 643, 831), ((565, 0), (623, 5)), ((822, 0), (644.3, 12.5)), False,
                      [-5, 0, 5], ["−5", "0", "5"], [-7.5, -2.5, 2.5, 7.5],
                      [0, 2.5, 5, 7.5, 10, 12.5], ["0.0", "2.5", "5.0", "7.5", "10.0", "12.5"],
                      [1.25, 3.75, 6.25, 8.75, 11.25], 4.8)
add_poly(xn, yn, h_st_x, h_st_y, "#DDDDDD")
add_pts(xn, yn, h_stp_x, h_stp_y, "#DDDDDD", 5.8, 1)
add_poly(xn, yn, h_dnc_x, h_dnc_y, "#4A4E9B")
add_pts(xn, yn, h_dn_x, h_dn_y, "#4C509E", 5.8, 0.85)
add_poly(xn, yn, h_upc_x, h_upc_y, "#CF3B45")
add_pts(xn, yn, h_up_x, h_up_y, "#D3434C", 5.8, 0.85)
thresholds(xn, yn, "5px,3px", 2.4)
text(450, 638, "Volcano Plot", 6.3)
text(433, 737, "−log10(pvalue)", 5.3, xanchor="center", angle=-90)
text(565, 843.5, "log2FoldChange", 5.5, xanchor="center")
text(688, 724, "Change", 5.5)
fig.add_trace(go.Scatter(x=[693.5] * 3, y=[733, 742, 751], mode="markers",
                         marker=dict(size=5.8, color=["#4C509E", "#DDDDDD", "#D3434C"], opacity=0.85),
                         xaxis="x20", yaxis="y20", showlegend=False, hoverinfo="skip"))
for s, y in zip(["down", "stable", "up"], [733, 742, 751]):
    text(700, y, s, 4.6)

# ================= PANEL I =================
shapes.append(dict(type="rect", xref="x20", yref="y20", x0=23, x1=338, y0=859, y1=1100,
                   line=dict(color="#E6E6E6", width=1), layer="below"))
lohi = dotplot(13, i_terms, i_count, i_count, [-p for p in i_pval], (200, 302, 871, 1076), (878, 1070.3),
               ((204.3, 4), (283.7, 16)), [4, 8, 12, 16], ["4", "8", "12", "16"], [2, 6, 10, 14, 18], 6.6, 6.9,
               (3.3, 9), CS_BR, (-0.0476, 0.0),
               cbar=cbar(311, 924, 10, 46, [-0.01, -0.02, -0.03, -0.04], ["0.01", "0.02", "0.03", "0.04"], 4.6))
size_legend(311, 986, 6.0, 317, [4, 8, 12, 16], [996, 1005.7, 1015.3, 1027], 328, 4.6, lohi, (3.3, 9))
text(310, 918, "pvalue", 6.2)
text(258, 1089.5, "Count", 7, xanchor="center")

# ================= PANEL J =================
lohi = dotplot(14, j_terms, j_count, j_count, [-p for p in j_pval], (579, 696, 871, 1076), (877.7, 1069.3),
               ((581.7, 10), (679.3, 40)), [10, 20, 30, 40], ["10", "20", "30", "40"], [15, 25, 35, 45], 6.6, 7,
               (3.7, 9.3), CS_BR, (-6.69e-11, -0.2e-11),
               cbar=cbar(704, 928, 10, 47, [-2e-11, -4e-11, -6e-11], ["2e−11", "4e−11", "6e−11"], 4.7))
size_legend(704, 990, 6.0, 710, [20, 30, 40], [1000.3, 1010.3, 1022], 718, 4.7, lohi, (3.7, 9.3))
text(703, 922, "pvalue", 6.2)
text(637, 1089.5, "Count", 7, xanchor="center")

# ================= PANEL LETTERS =================
for s, x, y in [("A", 1, 9), ("B", 287, 8.5), ("C", 3, 219), ("D", 392, 219), ("E", 5, 434.5), ("F", 390, 434.5),
                ("G", 6, 639.5), ("H", 390, 639.5), ("I", 6, 871), ("J", 390, 873)]:
    text(x, y, s, 13.5, color="black", bold=True)

# overlay axis in pixel coordinates (legends / labels)
layout["xaxis20"] = dict(domain=[0, 1], range=[0, W], visible=False, anchor="y20", fixedrange=True)
layout["yaxis20"] = dict(domain=[0, 1], range=[H, 0], visible=False, anchor="x20", fixedrange=True)

fig.update_layout(width=W, height=H, autosize=False, margin=dict(l=0, r=0, t=0, b=0),
                  paper_bgcolor="white", plot_bgcolor="rgba(0,0,0,0)",
                  font=dict(family=FONT, size=6, color=TXT), showlegend=False,
                  annotations=annots, shapes=shapes, **layout)
fig.write_html("out.html", include_plotlyjs=True, config={"displayModeBar": False})
